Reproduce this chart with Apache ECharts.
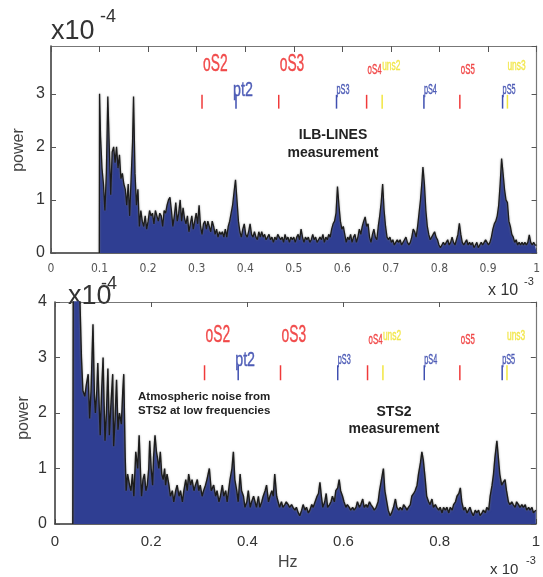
<!DOCTYPE html>
<html>
<head>
<meta charset="utf-8">
<script src="https://cdn.jsdelivr.net/npm/echarts@6/dist/echarts.min.js"></script>
<style>html,body{margin:0;padding:0;background:#fff}#c{width:543px;height:577px}</style>
</head>
<body>
<div id="c"></div>
<script>
// Power spectrum (units of 1e-4) vs frequency (units of 1e-3 Hz)
const topSpectrum = [[0.0995,0],[0.100,3.0],[0.102,2.2],[0.105,1.6],[0.108,1.3],[0.111,0.8],[0.114,1.5],[0.117,2.95],[0.120,2.0],[0.123,1.1],[0.126,1.9],[0.129,2.0],[0.132,1.7],[0.135,2.0],[0.138,1.6],[0.141,1.85],[0.144,1.4],[0.147,1.5],[0.150,1.3],[0.153,1.2],[0.156,0.9],[0.159,1.3],[0.162,0.7],[0.165,1.4],[0.168,2.1],[0.170,2.95],[0.173,1.5],[0.176,0.9],[0.179,1.2],[0.182,0.5],[0.185,0.8],[0.188,0.6],[0.191,0.5],[0.194,0.7],[0.197,0.45],[0.200,0.6],[0.203,0.8],[0.206,0.7],[0.209,0.75],[0.212,0.55],[0.215,0.8],[0.218,0.7],[0.221,0.6],[0.224,0.75],[0.227,0.7],[0.230,0.5],[0.233,0.8],[0.236,0.75],[0.239,0.9],[0.242,1.0],[0.245,1.05],[0.248,0.8],[0.251,0.5],[0.254,0.7],[0.257,0.95],[0.260,0.6],[0.263,0.75],[0.266,1.0],[0.269,0.6],[0.272,0.85],[0.275,0.65],[0.278,0.55],[0.281,0.7],[0.284,0.4],[0.287,0.55],[0.290,0.7],[0.293,0.45],[0.296,0.6],[0.299,0.75],[0.302,0.55],[0.305,0.9],[0.308,0.5],[0.311,0.35],[0.314,0.55],[0.317,0.6],[0.320,0.45],[0.323,0.6],[0.326,0.5],[0.329,0.4],[0.332,0.6],[0.335,0.5],[0.338,0.35],[0.341,0.45],[0.344,0.3],[0.347,0.4],[0.350,0.35],[0.353,0.4],[0.356,0.3],[0.359,0.45],[0.362,0.3],[0.365,0.5],[0.368,0.6],[0.371,0.75],[0.374,0.9],[0.377,1.15],[0.380,1.38],[0.383,1.0],[0.386,0.6],[0.389,0.4],[0.392,0.3],[0.395,0.45],[0.398,0.55],[0.401,0.35],[0.404,0.3],[0.407,0.4],[0.410,0.55],[0.413,0.35],[0.416,0.3],[0.419,0.4],[0.422,0.3],[0.425,0.25],[0.428,0.4],[0.431,0.3],[0.434,0.4],[0.437,0.3],[0.440,0.35],[0.443,0.25],[0.446,0.3],[0.449,0.35],[0.452,0.25],[0.455,0.3],[0.458,0.2],[0.461,0.3],[0.464,0.25],[0.467,0.35],[0.470,0.3],[0.473,0.25],[0.476,0.3],[0.479,0.2],[0.482,0.35],[0.485,0.25],[0.488,0.3],[0.491,0.2],[0.494,0.3],[0.497,0.25],[0.500,0.3],[0.503,0.2],[0.506,0.3],[0.509,0.35],[0.512,0.25],[0.515,0.45],[0.518,0.3],[0.521,0.2],[0.524,0.3],[0.527,0.25],[0.530,0.3],[0.533,0.2],[0.536,0.25],[0.539,0.35],[0.542,0.25],[0.545,0.3],[0.548,0.2],[0.551,0.25],[0.554,0.3],[0.557,0.25],[0.560,0.35],[0.563,0.2],[0.566,0.3],[0.569,0.25],[0.572,0.35],[0.575,0.3],[0.578,0.45],[0.581,0.55],[0.584,0.6],[0.587,0.75],[0.590,1.25],[0.593,0.9],[0.596,0.6],[0.599,0.45],[0.602,0.5],[0.605,0.35],[0.608,0.2],[0.611,0.3],[0.614,0.25],[0.617,0.35],[0.620,0.2],[0.623,0.3],[0.626,0.35],[0.629,0.2],[0.632,0.3],[0.635,0.45],[0.638,0.35],[0.641,0.5],[0.644,0.6],[0.647,0.68],[0.650,0.5],[0.653,0.55],[0.656,0.3],[0.659,0.2],[0.662,0.35],[0.665,0.45],[0.668,0.3],[0.671,0.25],[0.674,0.5],[0.677,0.7],[0.680,0.95],[0.683,1.3],[0.686,0.8],[0.689,0.5],[0.692,0.3],[0.695,0.25],[0.698,0.3],[0.701,0.2],[0.704,0.25],[0.707,0.15],[0.710,0.2],[0.713,0.25],[0.716,0.2],[0.719,0.25],[0.722,0.15],[0.725,0.2],[0.728,0.25],[0.731,0.3],[0.734,0.2],[0.737,0.15],[0.740,0.2],[0.743,0.3],[0.746,0.45],[0.749,0.4],[0.752,0.3],[0.755,0.5],[0.758,0.75],[0.761,1.0],[0.764,1.35],[0.766,1.62],[0.769,1.3],[0.772,0.8],[0.775,0.5],[0.778,0.35],[0.781,0.25],[0.784,0.3],[0.787,0.35],[0.790,0.4],[0.793,0.3],[0.796,0.25],[0.799,0.15],[0.802,0.1],[0.805,0.15],[0.808,0.2],[0.811,0.15],[0.814,0.2],[0.817,0.25],[0.820,0.15],[0.823,0.2],[0.826,0.3],[0.829,0.2],[0.832,0.15],[0.835,0.25],[0.838,0.35],[0.841,0.56],[0.844,0.35],[0.847,0.2],[0.850,0.15],[0.853,0.2],[0.856,0.25],[0.859,0.15],[0.862,0.2],[0.865,0.15],[0.868,0.2],[0.871,0.1],[0.874,0.15],[0.877,0.2],[0.880,0.1],[0.883,0.15],[0.886,0.2],[0.889,0.15],[0.892,0.2],[0.895,0.25],[0.898,0.2],[0.901,0.15],[0.904,0.2],[0.907,0.3],[0.910,0.45],[0.913,0.55],[0.916,0.6],[0.919,0.7],[0.922,0.9],[0.925,1.3],[0.928,1.78],[0.931,1.5],[0.934,1.2],[0.937,1.0],[0.940,0.95],[0.943,0.6],[0.946,0.5],[0.949,0.35],[0.952,0.3],[0.955,0.2],[0.958,0.25],[0.961,0.15],[0.964,0.2],[0.967,0.15],[0.970,0.2],[0.973,0.15],[0.976,0.2],[0.979,0.15],[0.982,0.2],[0.985,0.34],[0.988,0.2],[0.991,0.15],[0.994,0.2],[0.997,0.15],[1.000,0.15]];

const bottomSpectrum = [[0.037,0],[0.038,4.5],[0.041,4.4],[0.044,4.2],[0.048,4.1],[0.051,4.3],[0.055,3.0],[0.058,2.4],[0.062,2.3],[0.065,2.5],[0.069,2.7],[0.072,1.9],[0.075,2.4],[0.079,3.6],[0.082,2.3],[0.084,2.0],[0.087,2.4],[0.089,2.9],[0.092,2.1],[0.094,1.6],[0.097,2.4],[0.100,3.0],[0.102,2.2],[0.104,1.5],[0.107,2.0],[0.110,2.8],[0.113,1.6],[0.116,2.1],[0.120,2.7],[0.122,1.4],[0.125,1.9],[0.128,2.6],[0.131,1.7],[0.134,2.0],[0.138,1.8],[0.141,2.4],[0.143,2.7],[0.146,1.2],[0.148,0.6],[0.151,0.9],[0.155,0.7],[0.158,0.6],[0.161,0.9],[0.164,0.5],[0.168,1.3],[0.172,1.0],[0.175,1.6],[0.178,0.9],[0.180,0.5],[0.183,0.8],[0.186,0.9],[0.189,0.6],[0.192,0.7],[0.195,1.0],[0.197,1.5],[0.200,1.0],[0.203,0.7],[0.205,1.2],[0.208,1.6],[0.211,1.3],[0.213,1.2],[0.216,1.0],[0.219,1.3],[0.222,0.9],[0.225,0.8],[0.228,1.0],[0.230,0.7],[0.233,0.9],[0.237,0.7],[0.240,0.5],[0.244,0.6],[0.247,0.4],[0.251,0.6],[0.254,0.7],[0.258,0.5],[0.261,0.6],[0.265,0.4],[0.268,0.6],[0.272,0.8],[0.275,0.6],[0.278,0.9],[0.282,0.7],[0.285,0.8],[0.289,0.6],[0.292,0.7],[0.296,0.8],[0.299,0.6],[0.302,0.7],[0.306,0.5],[0.309,0.6],[0.313,0.7],[0.316,0.8],[0.321,1.0],[0.325,0.6],[0.330,0.7],[0.334,0.5],[0.337,0.6],[0.341,0.4],[0.344,0.5],[0.348,0.7],[0.351,0.5],[0.355,0.6],[0.358,0.4],[0.361,0.6],[0.364,0.8],[0.368,1.0],[0.371,1.3],[0.374,0.8],[0.378,0.6],[0.381,0.4],[0.385,0.9],[0.388,0.6],[0.392,0.5],[0.395,0.3],[0.399,0.4],[0.402,0.6],[0.406,0.3],[0.409,0.4],[0.413,0.5],[0.416,0.4],[0.419,0.3],[0.423,0.5],[0.426,0.3],[0.430,0.4],[0.433,0.5],[0.437,0.6],[0.440,0.7],[0.444,0.4],[0.447,0.5],[0.451,0.6],[0.454,0.5],[0.457,0.9],[0.461,0.5],[0.464,0.4],[0.467,0.3],[0.471,0.4],[0.474,0.3],[0.478,0.35],[0.481,0.4],[0.485,0.35],[0.488,0.3],[0.492,0.35],[0.495,0.3],[0.499,0.25],[0.502,0.3],[0.506,0.2],[0.509,0.15],[0.513,0.25],[0.516,0.35],[0.520,0.25],[0.523,0.3],[0.527,0.2],[0.530,0.25],[0.534,0.35],[0.537,0.3],[0.541,0.4],[0.545,0.5],[0.548,0.55],[0.551,0.75],[0.554,0.5],[0.557,0.3],[0.561,0.4],[0.564,0.55],[0.567,0.3],[0.571,0.35],[0.574,0.4],[0.577,0.5],[0.581,0.4],[0.584,0.6],[0.588,0.65],[0.591,0.8],[0.594,0.6],[0.598,0.5],[0.601,0.4],[0.605,0.3],[0.608,0.35],[0.612,0.3],[0.615,0.25],[0.619,0.3],[0.622,0.25],[0.626,0.3],[0.629,0.4],[0.633,0.3],[0.636,0.35],[0.640,0.45],[0.643,0.3],[0.647,0.35],[0.650,0.3],[0.654,0.4],[0.657,0.35],[0.661,0.3],[0.664,0.25],[0.668,0.3],[0.672,0.4],[0.675,0.6],[0.679,0.8],[0.683,1.0],[0.686,0.6],[0.690,0.4],[0.693,0.25],[0.697,0.15],[0.700,0.2],[0.704,0.3],[0.708,0.45],[0.711,0.3],[0.715,0.25],[0.718,0.3],[0.722,0.25],[0.725,0.35],[0.729,0.3],[0.732,0.25],[0.735,0.3],[0.739,0.35],[0.742,0.5],[0.746,0.55],[0.749,0.6],[0.753,0.7],[0.756,0.9],[0.760,1.1],[0.763,1.3],[0.766,1.15],[0.770,0.8],[0.773,0.5],[0.777,0.4],[0.780,0.35],[0.784,0.45],[0.787,0.3],[0.791,0.35],[0.794,0.3],[0.798,0.25],[0.801,0.3],[0.805,0.2],[0.808,0.3],[0.812,0.25],[0.815,0.3],[0.819,0.2],[0.822,0.3],[0.826,0.25],[0.829,0.35],[0.833,0.4],[0.836,0.5],[0.840,0.55],[0.843,0.65],[0.846,0.4],[0.850,0.25],[0.853,0.3],[0.857,0.2],[0.860,0.25],[0.863,0.3],[0.867,0.2],[0.870,0.15],[0.874,0.25],[0.877,0.2],[0.881,0.25],[0.884,0.15],[0.888,0.2],[0.891,0.25],[0.895,0.2],[0.898,0.3],[0.902,0.25],[0.905,0.5],[0.909,0.7],[0.912,0.9],[0.915,1.2],[0.919,1.5],[0.922,1.2],[0.925,0.9],[0.929,0.7],[0.932,0.75],[0.936,0.8],[0.939,0.6],[0.943,0.4],[0.946,0.35],[0.950,0.4],[0.953,0.35],[0.957,0.3],[0.960,0.4],[0.964,0.35],[0.967,0.3],[0.971,0.35],[0.974,0.3],[0.978,0.35],[0.981,0.25],[0.985,0.3],[0.988,0.25],[0.992,0.3],[0.995,0.2],[1.000,0.25]];

// Line markers
const markerNames = ['oS2','pt2','oS3','pS3','oS4','uns2','pS4','oS5','pS5','uns3'];
const markerFreqs = [0.311,0.381,0.469,0.588,0.650,0.682,0.768,0.842,0.930,0.940];
const markerKinds = ['red','blue','red','blue','red','yellow','blue','red','blue','yellow'];

const colorOf = {red:'#f03a3a', blue:'#3f4fb0', yellow:'#f2e640'};
// label style per marker: [fontSize, scaleX, dy (px above mark top), dx]
const labelStyle = [[23,0.6,-30,1],[21,0.68,-5,-3],[23,0.6,-30,1],[14,0.52,-5,0],[14,0.56,-25,1],[14,0.6,-29,0],[14,0.52,-5,0],[14,0.56,-25,1],[14,0.52,-5,0],[14,0.6,-29,0]];

const chart = echarts.init(document.getElementById('c'));

function markSeries(xi, yi, lo, hi) {
  return {
    type: 'custom', xAxisIndex: xi, yAxisIndex: yi, z: 5, silent: true,
    data: markerFreqs.map((f, i) => [f, i]),
    renderItem: function (params, api) {
      const i = api.value(1);
      const f = api.value(0);
      const p1 = api.coord([f, lo]);
      const p2 = api.coord([f, hi]);
      const ls = labelStyle[i];
      const col = colorOf[markerKinds[i]];
      return {
        type: 'group',
        children: [
          {type: 'line', shape: {x1: p1[0], y1: p1[1], x2: p2[0], y2: p2[1]}, style: {stroke: col, lineWidth: 1.5}},
          {type: 'text', x: p2[0] + ls[3], y: p2[1] + ls[2], scaleX: ls[1],
           style: {text: markerNames[i], fill: col, stroke: col, lineWidth: 0.4, font: ls[0] + 'px "Liberation Sans"', align: 'left', verticalAlign: 'middle', opacity: 0.9}}
        ]
      };
    }
  };
}

const axisLineStyle = {color: '#333', width: 1.5};
const boxLineStyle = {color: '#777', width: 1.2};

function xLabelFmt(v) {
  if (Math.abs(v) < 1e-9) return '0';
  if (Math.abs(v - 1) < 1e-9) return '1';
  return v.toFixed(1);
}
function yLabelFmt(v) {
  return Math.abs(v - Math.round(v)) < 1e-9 ? String(Math.round(v)) : '';
}

const option = {
  animation: false,
  grid: [
    {left: 51, top: 46, width: 488, height: 207},
    {left: 55, top: 302, width: 485, height: 222}
  ],
  xAxis: [
    {type: 'value', gridIndex: 0, min: 0, max: 1, interval: 0.1, position: 'bottom',
     axisLine: {onZero: false, lineStyle: axisLineStyle}, axisTick: {inside: true, length: 5, lineStyle: {color: '#555'}},
     splitLine: {show: false},
     axisLabel: {formatter: xLabelFmt, color: '#555', fontSize: 12, fontFamily: '"DejaVu Sans Condensed", "Liberation Sans", sans-serif', margin: 10}},
    {type: 'value', gridIndex: 0, min: 0, max: 1, interval: 0.1, position: 'top',
     axisLine: {onZero: false, lineStyle: boxLineStyle}, axisTick: {inside: true, length: 6, lineStyle: {color: '#555'}},
     splitLine: {show: false}, axisLabel: {show: false}},
    {type: 'value', gridIndex: 1, min: 0, max: 1, interval: 0.2, position: 'bottom',
     axisLine: {onZero: false, lineStyle: axisLineStyle}, axisTick: {inside: true, length: 5, lineStyle: {color: '#444'}},
     splitLine: {show: false},
     axisLabel: {formatter: xLabelFmt, color: '#333', fontSize: 15, fontFamily: '"Liberation Sans", sans-serif', margin: 10}},
    {type: 'value', gridIndex: 1, min: 0, max: 1, interval: 0.2, position: 'top',
     axisLine: {onZero: false, lineStyle: boxLineStyle}, axisTick: {inside: true, length: 5, lineStyle: {color: '#555'}},
     splitLine: {show: false}, axisLabel: {show: false}}
  ],
  yAxis: [
    {type: 'value', gridIndex: 0, min: 0, max: 3.9, interval: 1, position: 'left',
     axisLine: {show: true, onZero: false, lineStyle: axisLineStyle}, axisTick: {show: true, inside: true, length: 5, lineStyle: {color: '#555'}},
     splitLine: {show: false},
     axisLabel: {formatter: yLabelFmt, color: '#333', fontSize: 16, fontFamily: '"Liberation Sans", sans-serif', margin: 6, showMaxLabel: false}},
    {type: 'value', gridIndex: 0, min: 0, max: 3.9, interval: 1, position: 'right',
     axisLine: {show: true, onZero: false, lineStyle: boxLineStyle}, axisTick: {show: true, inside: true, length: 5, lineStyle: {color: '#555'}},
     splitLine: {show: false}, axisLabel: {show: false}},
    {type: 'value', gridIndex: 1, min: 0, max: 4, interval: 1, position: 'left',
     axisLine: {show: true, onZero: false, lineStyle: axisLineStyle}, axisTick: {show: true, inside: true, length: 5, lineStyle: {color: '#555'}},
     splitLine: {show: false},
     axisLabel: {formatter: yLabelFmt, color: '#333', fontSize: 16, fontFamily: '"Liberation Sans", sans-serif', margin: 8}},
    {type: 'value', gridIndex: 1, min: 0, max: 4, interval: 1, position: 'right',
     axisLine: {show: true, onZero: false, lineStyle: boxLineStyle}, axisTick: {show: true, inside: true, length: 5, lineStyle: {color: '#555'}},
     splitLine: {show: false}, axisLabel: {show: false}}
  ],
  series: [
    {type: 'line', xAxisIndex: 0, yAxisIndex: 0, data: topSpectrum, symbol: 'none', clip: true, z: 3,
     lineStyle: {color: '#1c1c1c', width: 1.3, shadowColor: 'rgba(120,120,120,0.8)', shadowBlur: 2},
     areaStyle: {color: '#2f3e92', opacity: 1}},
    {type: 'line', xAxisIndex: 2, yAxisIndex: 2, data: bottomSpectrum, symbol: 'none', clip: true, z: 3,
     lineStyle: {color: '#1c1c1c', width: 1.4, shadowColor: 'rgba(120,120,120,0.8)', shadowBlur: 2},
     areaStyle: {color: '#2f3e92', opacity: 1}},
    markSeries(0, 0, 2.72, 2.98),
    markSeries(2, 2, 2.59, 2.86)
  ],
  graphic: [
    {type: 'text', left: 51, top: 18, z: 1, style: {text: 'x10', font: '27px "Liberation Sans"', fill: '#333'}},
    {type: 'text', left: 100, top: 8, z: 1, style: {text: '-4', font: '18px "Liberation Sans"', fill: '#333'}},
    {type: 'text', left: 68, top: 283, z: 1, style: {text: 'x10', font: '27px "Liberation Sans"', fill: '#333'}},
    {type: 'text', left: 101, top: 275, z: 1, style: {text: '-4', font: '18px "Liberation Sans"', fill: '#333'}},
    {type: 'text', x: 19, y: 150, rotation: Math.PI / 2, z: 1,
     style: {text: 'power', font: '16px "Liberation Sans"', fill: '#444', align: 'center', verticalAlign: 'middle'}},
    {type: 'text', x: 24, y: 418, rotation: Math.PI / 2, z: 1,
     style: {text: 'power', font: '16px "Liberation Sans"', fill: '#444', align: 'center', verticalAlign: 'middle'}},
    {type: 'text', left: 488, top: 283, z: 1, style: {text: 'x 10', font: '16px "Liberation Sans"', fill: '#333'}},
    {type: 'text', left: 524, top: 276, z: 1, style: {text: '-3', font: '11px "Liberation Sans"', fill: '#333'}},
    {type: 'text', left: 490, top: 562, z: 1, style: {text: 'x 10', font: '15px "Liberation Sans"', fill: '#333'}},
    {type: 'text', left: 526, top: 555, z: 1, style: {text: '-3', font: '11px "Liberation Sans"', fill: '#333'}},
    {type: 'text', left: 278, top: 555, z: 1, style: {text: 'Hz', font: '16px "Liberation Sans"', fill: '#444'}},
    {type: 'text', x: 333, y: 135, z: 6, style: {text: 'ILB-LINES', font: 'bold 14px "Liberation Sans"', fill: '#222', align: 'center', verticalAlign: 'middle'}},
    {type: 'text', x: 333, y: 153, z: 6, style: {text: 'measurement', font: 'bold 14px "Liberation Sans"', fill: '#222', align: 'center', verticalAlign: 'middle'}},
    {type: 'text', x: 138, y: 397, z: 6, style: {text: 'Atmospheric noise from', font: 'bold 11.5px "Liberation Sans"', fill: '#222', align: 'left', verticalAlign: 'middle'}},
    {type: 'text', x: 138, y: 411, z: 6, style: {text: 'STS2 at low frequencies', font: 'bold 11.5px "Liberation Sans"', fill: '#222', align: 'left', verticalAlign: 'middle'}},
    {type: 'text', x: 394, y: 412, z: 6, style: {text: 'STS2', font: 'bold 14px "Liberation Sans"', fill: '#222', align: 'center', verticalAlign: 'middle'}},
    {type: 'text', x: 394, y: 429, z: 6, style: {text: 'measurement', font: 'bold 14px "Liberation Sans"', fill: '#222', align: 'center', verticalAlign: 'middle'}}
  ]
};
chart.setOption(option);
</script>
</body>
</html>
